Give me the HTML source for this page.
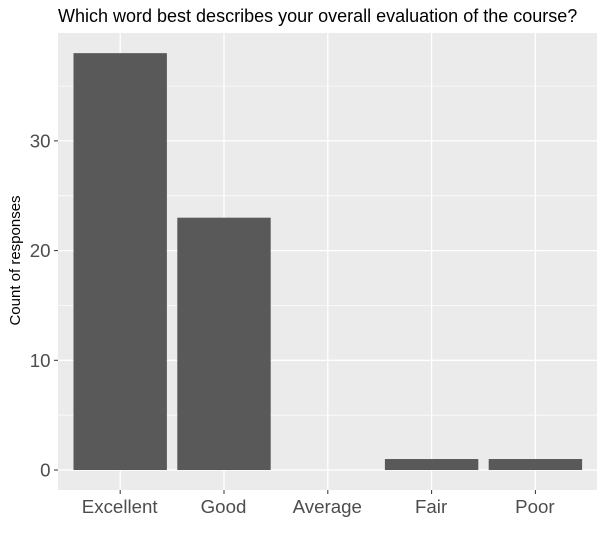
<!DOCTYPE html>
<html>
<head>
<meta charset="utf-8">
<title>Course evaluation chart</title>
<style>
html,body{margin:0;padding:0;background:#fff;width:605px;height:539px;overflow:hidden}
svg{display:block;font-family:"Liberation Sans",Arial,sans-serif}
</style>
</head>
<body>
<svg id="chart" width="605" height="539" viewBox="0 0 605 539" xmlns="http://www.w3.org/2000/svg">
<rect x="0" y="0" width="605" height="539" fill="#ffffff"/>
<text x="58" y="22" font-size="18" fill="#000000">Which word best describes your overall evaluation of the course?</text>
<rect x="58" y="33" width="539" height="457" fill="#ebebeb"/>
<g id="grid"></g>
<g id="bars"></g>
<g id="yaxis"></g>
<g id="xaxis"></g>
<text transform="translate(20 260.5) rotate(-90)" text-anchor="middle" font-size="15" fill="#000000">Count of responses</text>
</svg>
<script>
const categories = ['Excellent', 'Good', 'Average', 'Fair', 'Poor'];
const counts = [38, 23, 0, 1, 1];
const yTicks = [0, 10, 20, 30];
const yMinorTicks = [5, 15, 25, 35];

const NS = 'http://www.w3.org/2000/svg';
function xScale(i) { return 120.2 + i * 103.8; }
function yScale(v) { return 470 - v * 10.97; }
function make(tag, attrs, parent) {
  const el = document.createElementNS(NS, tag);
  for (const k in attrs) el.setAttribute(k, attrs[k]);
  parent.appendChild(el);
  return el;
}
const grid = document.getElementById('grid');
const bars = document.getElementById('bars');
const yaxis = document.getElementById('yaxis');
const xaxis = document.getElementById('xaxis');

yMinorTicks.forEach(function (v) {
  const el = make('line', {x1: 58, x2: 597, y1: yScale(v), y2: yScale(v), stroke: '#ffffff', 'stroke-width': 0.7}, grid);
  
  
});
yTicks.forEach(function (v) {
  const el = make('line', {x1: 58, x2: 597, y1: yScale(v), y2: yScale(v), stroke: '#ffffff', 'stroke-width': 1.3}, grid);
  
  
  const tick = make('line', {x1: 54, x2: 58, y1: yScale(v), y2: yScale(v), stroke: '#333333', 'stroke-width': 1}, yaxis);
  
  
  const label = make('text', {x: 50.5, y: yScale(v) + 6.5, 'text-anchor': 'end', 'font-size': 18.7, fill: '#4d4d4d'}, yaxis);
  
  
  label.textContent = v;
});
categories.forEach(function (c, i) {
  const x = xScale(i);
  const g = make('line', {x1: x, x2: x, y1: 33, y2: 490, stroke: '#ffffff', 'stroke-width': 1.3}, grid);
  
  
  const tick = make('line', {x1: x, x2: x, y1: 490, y2: 494, stroke: '#333333', 'stroke-width': 1}, xaxis);
  
  
  const label = make('text', {x: x - 0.5, y: 513, 'text-anchor': 'middle', 'font-size': 18.7, fill: '#4d4d4d'}, xaxis);
  
  
  label.textContent = c;
  const w = 93.4;
  const bar = make('rect', {x: x - w / 2, y: yScale(counts[i]), width: w, height: yScale(0) - yScale(counts[i]), fill: '#595959'}, bars);
  
  
});
</script>
</body>
</html>
